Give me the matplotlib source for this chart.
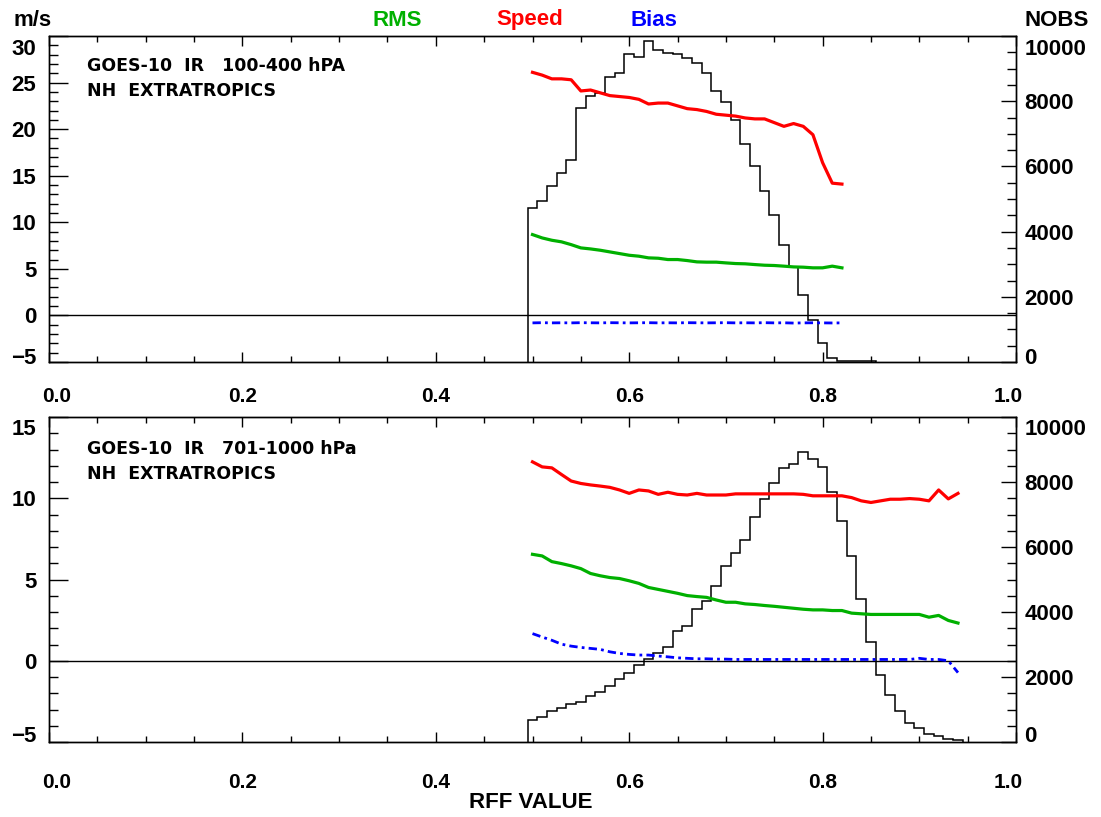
import numpy as np
import matplotlib
matplotlib.use('Agg')
import matplotlib.pyplot as plt
from matplotlib.ticker import MultipleLocator
from matplotlib.transforms import ScaledTranslation

plt.rcParams['font.family'] = ['Liberation Sans', 'DejaVu Sans']
plt.rcParams['font.weight'] = 'bold'

# ---- top panel: 100-400 hPa ----
top_x = np.round(np.arange(0.50, 0.825, 0.01), 2)
top_speed = [26.1, 25.8, 25.4, 25.4, 25.3, 24.1, 24.2, 23.9, 23.6, 23.5, 23.4,
             23.2, 22.7, 22.8, 22.8, 22.5, 22.2, 22.1, 21.9, 21.6, 21.5, 21.4,
             21.2, 21.1, 21.1, 20.7, 20.3, 20.6, 20.3, 19.4, 16.4, 14.2, 14.1]
top_rms = [8.68, 8.32, 8.07, 7.90, 7.60, 7.25, 7.14, 7.00, 6.82, 6.64, 6.46,
           6.36, 6.18, 6.14, 6.00, 6.00, 5.89, 5.75, 5.72, 5.72, 5.64, 5.57,
           5.54, 5.46, 5.39, 5.36, 5.29, 5.21, 5.18, 5.11, 5.11, 5.29, 5.11]
top_bias = [-0.80, -0.78, -0.80, -0.79, -0.80, -0.78, -0.79, -0.80, -0.78,
            -0.79, -0.80, -0.79, -0.78, -0.80, -0.79, -0.80, -0.78, -0.79,
            -0.80, -0.79, -0.78, -0.80, -0.79, -0.80, -0.78, -0.80, -0.79,
            -0.82, -0.80, -0.79, -0.80, -0.81, -0.80]
top_hist_x = np.round(np.arange(0.50, 0.855, 0.01), 2)
top_nobs = [4726, 4949, 5408, 5797, 6204, 7806, 8173, 8245, 8735, 8877, 9449,
            9367, 9847, 9571, 9490, 9449, 9316, 9184, 8877, 8327, 7990, 7429,
            6684, 6021, 5256, 4500, 3603, 2920, 2042, 1276, 594, 135, 30, 30,
            30, 30]

# ---- bottom panel: 701-1000 hPa ----
bot_x = np.round(np.arange(0.50, 0.945, 0.01), 2)
bot_speed = [12.24, 11.93, 11.87, 11.46, 11.06, 10.91, 10.82, 10.75, 10.67,
             10.51, 10.30, 10.51, 10.45, 10.24, 10.37, 10.24, 10.20, 10.30,
             10.20, 10.20, 10.20, 10.27, 10.27, 10.27, 10.27, 10.27, 10.27,
             10.27, 10.24, 10.15, 10.15, 10.15, 10.15, 10.04, 9.84, 9.74,
             9.84, 9.94, 9.94, 9.98, 9.94, 9.84, 10.51, 9.96, 10.30]
bot_rms = [6.55, 6.45, 6.10, 5.98, 5.84, 5.67, 5.37, 5.23, 5.12, 5.06, 4.92,
           4.76, 4.51, 4.39, 4.27, 4.15, 4.01, 3.95, 3.90, 3.74, 3.60, 3.60,
           3.50, 3.46, 3.40, 3.35, 3.29, 3.23, 3.17, 3.13, 3.13, 3.09, 3.09,
           2.93, 2.89, 2.85, 2.85, 2.85, 2.85, 2.85, 2.85, 2.68, 2.79, 2.48,
           2.32]
bot_bias = [1.67, 1.46, 1.26, 1.02, 0.90, 0.82, 0.76, 0.70, 0.55, 0.45, 0.39,
            0.35, 0.35, 0.29, 0.24, 0.18, 0.15, 0.12, 0.12, 0.10, 0.10, 0.08,
            0.08, 0.08, 0.08, 0.08, 0.08, 0.08, 0.08, 0.08, 0.08, 0.08, 0.08,
            0.08, 0.08, 0.08, 0.08, 0.08, 0.08, 0.08, 0.15, 0.08, 0.08, 0.00,
            -0.73]
bot_hist_x = np.round(np.arange(0.50, 0.945, 0.01), 2)
bot_nobs = [675, 780, 952, 1056, 1179, 1228, 1412, 1547, 1719, 1946, 2130,
            2355, 2539, 2745, 2929, 3408, 3562, 4095, 4351, 4811, 5404, 5815,
            6202, 6908, 7492, 7983, 8425, 8548, 8916, 8701, 8474, 7707, 6786,
            5711, 4403, 3083, 2069, 1434, 952, 596, 442, 258, 184, 104, 52]

panels = [
    dict(x=top_x, speed=top_speed, rms=top_rms, bias=top_bias,
         hx=top_hist_x, nobs=top_nobs, ylim=(-5, 30), xpad=18,
         ytop_shift=-11, ybot_shift=6, label_y=0.935,
         label='GOES-10  IR   100-400 hPA\nNH  EXTRATROPICS',
         rect=[49/1101, 1-362/817, 967/1101, 326/817]),
    dict(x=bot_x, speed=bot_speed, rms=bot_rms, bias=bot_bias,
         hx=bot_hist_x, nobs=bot_nobs, ylim=(-5, 15), xpad=22,
         ytop_shift=-10, ybot_shift=8, label_y=0.93,
         label='GOES-10  IR   701-1000 hPa\nNH  EXTRATROPICS',
         rect=[49/1101, 1-742/817, 967/1101, 325/817]),
]

GREEN = '#00b000'

fig = plt.figure(figsize=(11.01, 8.17), dpi=100)


def shift(lbl, dx, dy):
    lbl.set_transform(lbl.get_transform() +
                      ScaledTranslation(dx / 100, dy / 100, fig.dpi_scale_trans))


for i, p in enumerate(panels):
    ax = fig.add_axes(p['rect'])
    ax2 = ax.twinx()
    ax.set_zorder(ax2.get_zorder() + 1)
    ax.patch.set_visible(False)

    # histogram of number of obs (right axis)
    edges = np.append(p['hx'] - 0.005, p['hx'][-1] + 0.005)
    ax2.stairs(p['nobs'], edges, baseline=0, color='black', lw=1.1)
    ax2.set_ylim(0, 10000)

    ax.axhline(0, color='black', lw=1.0)
    ax.plot(p['x'], p['speed'], color='red', lw=2.3)
    ax.plot(p['x'], p['rms'], color=GREEN, lw=2.3)
    ax.plot(p['x'], p['bias'], color='blue', lw=2.0, dashes=(3, 1.5, 1, 1.5))

    ax.set_xlim(0, 1)
    ax.set_ylim(*p['ylim'])

    ax.xaxis.set_major_locator(MultipleLocator(0.2))
    ax.xaxis.set_minor_locator(MultipleLocator(0.05))
    ax.yaxis.set_major_locator(MultipleLocator(5))
    ax.yaxis.set_minor_locator(MultipleLocator(1))
    ax.set_xticks(np.arange(0, 1.01, 0.2))
    ax.set_xticklabels(['0.0', '0.2', '0.4', '0.6', '0.8', '1.0'])

    ax.tick_params(axis='x', which='both', direction='in', top=True, bottom=True,
                   labelsize=15, pad=p['xpad'])
    ax.tick_params(axis='x', which='major', length=7, width=1)
    ax.tick_params(axis='x', which='minor', length=4, width=1)
    ax.tick_params(axis='y', which='both', direction='in', left=True, right=False,
                   labelsize=16, pad=9)
    ax.tick_params(axis='y', which='major', length=14, width=1)
    ax.tick_params(axis='y', which='minor', length=6.5, width=1)

    ax2.yaxis.set_major_locator(MultipleLocator(2000))
    ax2.yaxis.set_minor_locator(MultipleLocator(500))
    ax2.tick_params(axis='y', which='both', direction='in', labelsize=16, pad=6)
    ax2.tick_params(axis='y', which='major', length=11, width=1)
    ax2.tick_params(axis='y', which='minor', length=6.5, width=1)

    for a in (ax, ax2):
        for s in a.spines.values():
            s.set_linewidth(1.0)

    ax.text(0.039, p['label_y'], p['label'], transform=ax.transAxes,
            fontsize=12.5, family=['DejaVu Sans'], fontweight='bold',
            va='top', ha='left', linespacing=1.5)

    # keep end labels inside the frame, as in the original
    fig.canvas.draw()
    ylo, yhi = p['ylim']
    for t in ax.yaxis.get_major_ticks():
        if abs(t.get_loc() - yhi) < 1e-6:
            shift(t.label1, 0, p['ytop_shift'])
        elif abs(t.get_loc() - ylo) < 1e-6:
            shift(t.label1, 0, p['ybot_shift'])
    for t in ax2.yaxis.get_major_ticks():
        if abs(t.get_loc() - 10000) < 1e-6:
            shift(t.label2, 0, p['ytop_shift'])
        elif abs(t.get_loc()) < 1e-6:
            shift(t.label2, 0, p['ybot_shift'])
    for t in ax.xaxis.get_major_ticks():
        if abs(t.get_loc()) < 1e-6:
            shift(t.label1, 8, 0)
        elif abs(t.get_loc() - 1) < 1e-6:
            shift(t.label1, -8, 0)

fig.text(33/1101, 1-20/817, 'm/s', fontsize=16, fontweight='bold',
         ha='center', va='center')
fig.text(1057/1101, 1-20/817, 'NOBS', fontsize=16, fontweight='bold',
         ha='center', va='center')
fig.text(397/1101, 1-20/817, 'RMS', fontsize=16, fontweight='bold',
         color=GREEN, ha='center', va='center')
fig.text(530/1101, 1-20/817, 'Speed', fontsize=16, fontweight='bold',
         color='red', ha='center', va='center')
fig.text(654/1101, 1-20/817, 'Bias', fontsize=16, fontweight='bold',
         color='blue', ha='center', va='center')
fig.text(531/1101, 1-803/817, 'RFF VALUE', fontsize=16, fontweight='bold',
         ha='center', va='center')

fig.savefig('out.png', dpi=100)
